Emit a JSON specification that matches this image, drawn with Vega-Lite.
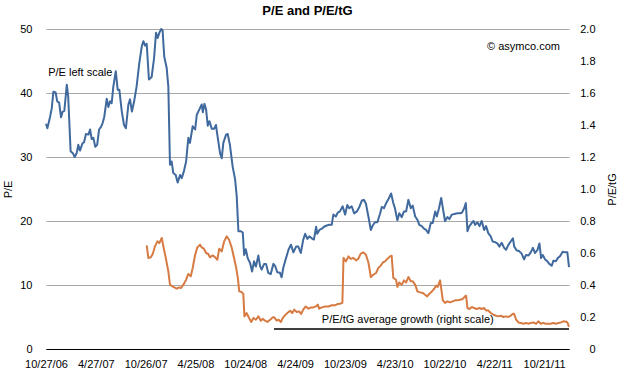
{
  "$schema": "https://vega.github.io/schema/vega-lite/v6.json",
  "width": 523,
  "height": 320,
  "autosize": {"type": "none"},
  "padding": {"left": 46, "top": 29, "right": 51, "bottom": 43},
  "background": "white",
  "title": {"text": "P/E and P/E/tG", "font": "Liberation Sans", "fontSize": 13, "fontWeight": "bold", "color": "black", "anchor": "middle", "offset": 5},
  "config": {
    "font": "Liberation Sans",
    "view": {"stroke": null},
    "axis": {"labelFont": "Liberation Sans", "labelFontSize": 11, "labelColor": "black", "titleFont": "Liberation Sans", "titleFontSize": 11, "titleFontWeight": "normal", "titleColor": "black"}
  },
  "datasets": {
    "pe": [
      {"date":"2006-10-27","pe":35.2},{"date":"2006-11-01","pe":34.5},{"date":"2006-11-11","pe":36.3},{"date":"2006-11-17","pe":37.6},{"date":"2006-11-23","pe":40.2},{"date":"2006-12-01","pe":40.1},{"date":"2006-12-07","pe":38.7},{"date":"2006-12-14","pe":38.5},{"date":"2006-12-21","pe":36.2},{"date":"2006-12-27","pe":37.1},
      {"date":"2007-01-02","pe":37.2},{"date":"2007-01-11","pe":41.3},{"date":"2007-01-16","pe":39.5},{"date":"2007-01-25","pe":30.9},{"date":"2007-02-02","pe":30.6},{"date":"2007-02-09","pe":30.0},{"date":"2007-02-16","pe":30.6},{"date":"2007-02-22","pe":31.9},{"date":"2007-02-28","pe":31.0},{"date":"2007-03-09","pe":32.1},
      {"date":"2007-03-15","pe":32.3},{"date":"2007-03-22","pe":33.6},{"date":"2007-03-31","pe":33.5},{"date":"2007-04-06","pe":34.3},{"date":"2007-04-12","pe":32.8},{"date":"2007-04-18","pe":33.0},{"date":"2007-04-25","pe":31.6},{"date":"2007-05-02","pe":31.9},{"date":"2007-05-09","pe":34.3},{"date":"2007-05-16","pe":34.7},
      {"date":"2007-05-22","pe":35.3},{"date":"2007-05-28","pe":36.3},{"date":"2007-06-06","pe":39.1},{"date":"2007-06-12","pe":37.8},{"date":"2007-06-18","pe":38.7},{"date":"2007-06-24","pe":38.4},{"date":"2007-06-30","pe":41.0},{"date":"2007-07-09","pe":43.4},{"date":"2007-07-16","pe":40.5},{"date":"2007-07-22","pe":40.5},
      {"date":"2007-07-31","pe":37.1},{"date":"2007-08-08","pe":35.0},{"date":"2007-08-15","pe":34.5},{"date":"2007-08-24","pe":38.2},{"date":"2007-08-30","pe":39.0},{"date":"2007-09-06","pe":37.1},{"date":"2007-09-14","pe":38.7},{"date":"2007-09-23","pe":41.0},{"date":"2007-10-03","pe":44.7},{"date":"2007-10-12","pe":47.3},
      {"date":"2007-10-18","pe":48.1},{"date":"2007-10-24","pe":47.4},{"date":"2007-10-30","pe":47.7},{"date":"2007-11-07","pe":42.1},{"date":"2007-11-17","pe":42.5},{"date":"2007-11-26","pe":45.5},{"date":"2007-12-03","pe":49.4},{"date":"2007-12-09","pe":48.6},{"date":"2007-12-15","pe":49.4},{"date":"2007-12-22","pe":50.0},
      {"date":"2007-12-27","pe":49.8},{"date":"2008-01-02","pe":45.7},{"date":"2008-01-11","pe":43.9},{"date":"2008-01-17","pe":41.0},{"date":"2008-01-23","pe":28.8},{"date":"2008-01-29","pe":29.3},{"date":"2008-02-04","pe":27.5},{"date":"2008-02-13","pe":27.2},{"date":"2008-02-20","pe":26.0},{"date":"2008-02-29","pe":27.2},
      {"date":"2008-03-06","pe":26.7},{"date":"2008-03-14","pe":27.8},{"date":"2008-03-22","pe":29.3},{"date":"2008-03-30","pe":33.0},{"date":"2008-04-05","pe":32.2},{"date":"2008-04-15","pe":34.8},{"date":"2008-04-24","pe":34.3},{"date":"2008-04-30","pe":36.6},{"date":"2008-05-09","pe":37.4},{"date":"2008-05-18","pe":38.2},
      {"date":"2008-05-22","pe":37.0},{"date":"2008-05-28","pe":38.3},{"date":"2008-06-03","pe":37.4},{"date":"2008-06-09","pe":34.9},{"date":"2008-06-15","pe":35.6},{"date":"2008-06-24","pe":34.4},{"date":"2008-07-02","pe":34.4},{"date":"2008-07-09","pe":35.0},{"date":"2008-07-15","pe":33.2},{"date":"2008-07-24","pe":30.6},
      {"date":"2008-07-30","pe":29.8},{"date":"2008-08-05","pe":32.2},{"date":"2008-08-15","pe":33.5},{"date":"2008-08-21","pe":33.6},{"date":"2008-08-29","pe":31.9},{"date":"2008-09-08","pe":28.5},{"date":"2008-09-17","pe":26.5},{"date":"2008-09-23","pe":23.8},{"date":"2008-09-29","pe":18.4},{"date":"2008-10-08","pe":18.4},
      {"date":"2008-10-15","pe":18.2},{"date":"2008-10-20","pe":14.7},{"date":"2008-10-26","pe":15.6},{"date":"2008-11-02","pe":14.2},{"date":"2008-11-11","pe":13.4},{"date":"2008-11-18","pe":12.1},{"date":"2008-11-25","pe":13.7},{"date":"2008-12-02","pe":12.9},{"date":"2008-12-11","pe":14.6},{"date":"2008-12-17","pe":13.0},
      {"date":"2008-12-23","pe":12.4},{"date":"2009-01-01","pe":13.3},{"date":"2009-01-08","pe":13.3},{"date":"2009-01-16","pe":11.9},{"date":"2009-01-25","pe":11.7},{"date":"2009-02-04","pe":13.3},{"date":"2009-02-10","pe":13.0},{"date":"2009-02-18","pe":12.0},{"date":"2009-02-28","pe":11.9},{"date":"2009-03-06","pe":11.2},
      {"date":"2009-03-12","pe":12.7},{"date":"2009-03-22","pe":14.2},{"date":"2009-03-31","pe":15.5},{"date":"2009-04-09","pe":16.3},{"date":"2009-04-18","pe":15.1},{"date":"2009-04-28","pe":16.0},{"date":"2009-05-06","pe":16.0},{"date":"2009-05-15","pe":15.0},{"date":"2009-05-24","pe":17.1},{"date":"2009-05-31","pe":18.0},
      {"date":"2009-06-08","pe":17.2},{"date":"2009-06-15","pe":17.6},{"date":"2009-06-24","pe":17.3},{"date":"2009-07-02","pe":17.1},{"date":"2009-07-10","pe":19.1},{"date":"2009-07-14","pe":18.0},{"date":"2009-07-22","pe":18.6},{"date":"2009-07-31","pe":18.8},{"date":"2009-08-08","pe":19.1},{"date":"2009-08-18","pe":19.3},
      {"date":"2009-08-27","pe":19.4},{"date":"2009-09-05","pe":19.4},{"date":"2009-09-11","pe":21.0},{"date":"2009-09-20","pe":20.7},{"date":"2009-09-27","pe":21.3},{"date":"2009-10-05","pe":21.5},{"date":"2009-10-15","pe":22.3},{"date":"2009-10-24","pe":21.0},{"date":"2009-11-01","pe":22.5},{"date":"2009-11-08","pe":22.0},
      {"date":"2009-11-17","pe":22.3},{"date":"2009-11-26","pe":21.2},{"date":"2009-12-06","pe":21.5},{"date":"2009-12-15","pe":22.2},{"date":"2009-12-24","pe":23.2},{"date":"2010-01-01","pe":23.3},{"date":"2010-01-08","pe":22.7},{"date":"2010-01-17","pe":20.7},{"date":"2010-01-26","pe":18.6},{"date":"2010-02-02","pe":19.3},
      {"date":"2010-02-10","pe":19.8},{"date":"2010-02-19","pe":19.8},{"date":"2010-03-01","pe":21.2},{"date":"2010-03-07","pe":22.2},{"date":"2010-03-15","pe":22.0},{"date":"2010-03-23","pe":22.8},{"date":"2010-03-31","pe":23.4},{"date":"2010-04-10","pe":24.3},{"date":"2010-04-18","pe":22.8},{"date":"2010-04-24","pe":22.0},
      {"date":"2010-05-03","pe":20.1},{"date":"2010-05-10","pe":21.2},{"date":"2010-05-19","pe":20.6},{"date":"2010-05-27","pe":21.5},{"date":"2010-06-04","pe":21.5},{"date":"2010-06-12","pe":23.3},{"date":"2010-06-21","pe":22.0},{"date":"2010-06-28","pe":22.4},{"date":"2010-07-07","pe":20.7},{"date":"2010-07-15","pe":20.2},
      {"date":"2010-07-22","pe":19.4},{"date":"2010-07-31","pe":19.2},{"date":"2010-08-08","pe":18.8},{"date":"2010-08-16","pe":18.6},{"date":"2010-08-24","pe":18.1},{"date":"2010-09-02","pe":19.7},{"date":"2010-09-09","pe":19.7},{"date":"2010-09-18","pe":21.5},{"date":"2010-09-24","pe":20.7},{"date":"2010-10-02","pe":22.0},
      {"date":"2010-10-10","pe":23.6},{"date":"2010-10-18","pe":21.5},{"date":"2010-10-24","pe":20.0},{"date":"2010-11-02","pe":20.6},{"date":"2010-11-09","pe":20.3},{"date":"2010-11-18","pe":21.0},{"date":"2010-11-27","pe":21.1},{"date":"2010-12-08","pe":21.2},{"date":"2010-12-18","pe":21.2},{"date":"2010-12-25","pe":21.3},
      {"date":"2011-01-02","pe":22.0},{"date":"2011-01-08","pe":22.8},{"date":"2011-01-14","pe":18.4},{"date":"2011-01-21","pe":19.2},{"date":"2011-01-30","pe":19.7},{"date":"2011-02-05","pe":20.0},{"date":"2011-02-11","pe":19.4},{"date":"2011-02-19","pe":19.8},{"date":"2011-02-27","pe":19.2},{"date":"2011-03-07","pe":20.0},
      {"date":"2011-03-16","pe":18.6},{"date":"2011-03-23","pe":19.2},{"date":"2011-03-31","pe":18.1},{"date":"2011-04-09","pe":17.6},{"date":"2011-04-16","pe":16.8},{"date":"2011-04-25","pe":16.7},{"date":"2011-05-03","pe":16.5},{"date":"2011-05-11","pe":16.0},{"date":"2011-05-19","pe":16.6},{"date":"2011-05-28","pe":15.8},
      {"date":"2011-06-04","pe":15.5},{"date":"2011-06-13","pe":16.3},{"date":"2011-06-21","pe":16.8},{"date":"2011-06-29","pe":17.3},{"date":"2011-07-04","pe":16.0},{"date":"2011-07-13","pe":15.4},{"date":"2011-07-22","pe":15.3},{"date":"2011-07-31","pe":14.9},{"date":"2011-08-09","pe":14.0},{"date":"2011-08-16","pe":14.7},
      {"date":"2011-08-25","pe":14.6},{"date":"2011-09-02","pe":15.1},{"date":"2011-09-10","pe":15.8},{"date":"2011-09-18","pe":15.0},{"date":"2011-09-27","pe":15.5},{"date":"2011-10-04","pe":16.5},{"date":"2011-10-10","pe":14.2},{"date":"2011-10-16","pe":14.7},{"date":"2011-10-25","pe":14.0},{"date":"2011-11-02","pe":13.7},
      {"date":"2011-11-09","pe":13.3},{"date":"2011-11-18","pe":13.0},{"date":"2011-11-24","pe":13.8},{"date":"2011-12-03","pe":13.7},{"date":"2011-12-10","pe":14.2},{"date":"2011-12-18","pe":14.5},{"date":"2011-12-28","pe":15.2},{"date":"2012-01-06","pe":15.1},{"date":"2012-01-14","pe":15.1},{"date":"2012-01-20","pe":12.8}
    ],
    "petg": [
      {"date":"2007-10-30","petg":0.648},{"date":"2007-11-05","petg":0.569},{"date":"2007-11-14","petg":0.573},{"date":"2007-11-21","petg":0.594},{"date":"2007-11-29","petg":0.641},{"date":"2007-12-08","petg":0.673},{"date":"2007-12-15","petg":0.662},{"date":"2007-12-24","petg":0.694},{"date":"2007-12-30","petg":0.641},{"date":"2008-01-09","petg":0.558},
      {"date":"2008-01-17","petg":0.485},{"date":"2008-01-23","petg":0.402},{"date":"2008-02-01","petg":0.391},{"date":"2008-02-08","petg":0.385},{"date":"2008-02-17","petg":0.377},{"date":"2008-02-25","petg":0.385},{"date":"2008-03-03","petg":0.381},{"date":"2008-03-12","petg":0.402},{"date":"2008-03-22","petg":0.433},{"date":"2008-03-30","petg":0.469},
      {"date":"2008-04-08","petg":0.454},{"date":"2008-04-15","petg":0.506},{"date":"2008-04-24","petg":0.589},{"date":"2008-05-02","petg":0.635},{"date":"2008-05-12","petg":0.652},{"date":"2008-05-18","petg":0.635},{"date":"2008-05-26","petg":0.627},{"date":"2008-06-03","petg":0.600},{"date":"2008-06-11","petg":0.594},{"date":"2008-06-17","petg":0.573},
      {"date":"2008-06-27","petg":0.585},{"date":"2008-07-06","petg":0.573},{"date":"2008-07-14","petg":0.558},{"date":"2008-07-21","petg":0.627},{"date":"2008-07-30","petg":0.610},{"date":"2008-08-08","petg":0.673},{"date":"2008-08-17","petg":0.704},{"date":"2008-08-26","petg":0.683},{"date":"2008-09-05","petg":0.631},{"date":"2008-09-13","petg":0.569},
      {"date":"2008-09-20","petg":0.516},{"date":"2008-09-27","petg":0.444},{"date":"2008-10-02","petg":0.360},{"date":"2008-10-11","petg":0.356},{"date":"2008-10-17","petg":0.344},{"date":"2008-10-21","petg":0.204},{"date":"2008-10-29","petg":0.225},{"date":"2008-11-07","petg":0.194},{"date":"2008-11-15","petg":0.169},{"date":"2008-11-23","petg":0.194},
      {"date":"2008-12-02","petg":0.183},{"date":"2008-12-11","petg":0.204},{"date":"2008-12-20","petg":0.177},{"date":"2008-12-27","petg":0.189},{"date":"2009-01-04","petg":0.177},{"date":"2009-01-13","petg":0.169},{"date":"2009-01-23","petg":0.183},{"date":"2009-02-02","petg":0.198},{"date":"2009-02-07","petg":0.198},{"date":"2009-02-16","petg":0.177},
      {"date":"2009-02-23","petg":0.183},{"date":"2009-03-03","petg":0.169},{"date":"2009-03-10","petg":0.194},{"date":"2009-03-18","petg":0.210},{"date":"2009-03-27","petg":0.225},{"date":"2009-04-06","petg":0.239},{"date":"2009-04-14","petg":0.225},{"date":"2009-04-21","petg":0.246},{"date":"2009-04-30","petg":0.231},{"date":"2009-05-09","petg":0.235},
      {"date":"2009-05-16","petg":0.219},{"date":"2009-05-24","petg":0.246},{"date":"2009-06-02","petg":0.266},{"date":"2009-06-12","petg":0.252},{"date":"2009-06-21","petg":0.260},{"date":"2009-06-30","petg":0.260},{"date":"2009-07-09","petg":0.266},{"date":"2009-07-16","petg":0.277},{"date":"2009-07-21","petg":0.252},{"date":"2009-07-31","petg":0.260},
      {"date":"2009-08-12","petg":0.266},{"date":"2009-08-24","petg":0.266},{"date":"2009-09-05","petg":0.273},{"date":"2009-09-17","petg":0.273},{"date":"2009-09-26","petg":0.281},{"date":"2009-10-05","petg":0.283},{"date":"2009-10-14","petg":0.288},{"date":"2009-10-18","petg":0.569},{"date":"2009-10-27","petg":0.548},{"date":"2009-11-05","petg":0.579},
      {"date":"2009-11-13","petg":0.563},{"date":"2009-11-23","petg":0.569},{"date":"2009-12-03","petg":0.554},{"date":"2009-12-11","petg":0.563},{"date":"2009-12-20","petg":0.596},{"date":"2009-12-30","petg":0.604},{"date":"2010-01-08","petg":0.589},{"date":"2010-01-17","petg":0.541},{"date":"2010-01-26","petg":0.450},{"date":"2010-02-04","petg":0.464},
      {"date":"2010-02-14","petg":0.475},{"date":"2010-02-22","petg":0.506},{"date":"2010-03-03","petg":0.521},{"date":"2010-03-11","petg":0.541},{"date":"2010-03-19","petg":0.548},{"date":"2010-03-27","petg":0.563},{"date":"2010-04-06","petg":0.579},{"date":"2010-04-12","petg":0.583},{"date":"2010-04-18","petg":0.444},{"date":"2010-04-28","petg":0.433},
      {"date":"2010-05-03","petg":0.388},{"date":"2010-05-10","petg":0.416},{"date":"2010-05-19","petg":0.402},{"date":"2010-05-27","petg":0.429},{"date":"2010-06-04","petg":0.416},{"date":"2010-06-12","petg":0.450},{"date":"2010-06-21","petg":0.423},{"date":"2010-06-28","petg":0.423},{"date":"2010-07-07","petg":0.402},{"date":"2010-07-15","petg":0.360},
      {"date":"2010-07-25","petg":0.354},{"date":"2010-08-04","petg":0.350},{"date":"2010-08-12","petg":0.339},{"date":"2010-08-20","petg":0.329},{"date":"2010-08-28","petg":0.346},{"date":"2010-09-06","petg":0.360},{"date":"2010-09-14","petg":0.375},{"date":"2010-09-21","petg":0.396},{"date":"2010-09-27","petg":0.388},{"date":"2010-10-06","petg":0.429},
      {"date":"2010-10-09","petg":0.391},{"date":"2010-10-16","petg":0.304},{"date":"2010-10-24","petg":0.288},{"date":"2010-11-02","petg":0.298},{"date":"2010-11-11","petg":0.291},{"date":"2010-11-21","petg":0.298},{"date":"2010-11-30","petg":0.304},{"date":"2010-12-08","petg":0.304},{"date":"2010-12-18","petg":0.308},{"date":"2010-12-28","petg":0.313},
      {"date":"2011-01-05","petg":0.329},{"date":"2011-01-09","petg":0.333},{"date":"2011-01-14","petg":0.256},{"date":"2011-01-21","petg":0.250},{"date":"2011-01-30","petg":0.263},{"date":"2011-02-07","petg":0.256},{"date":"2011-02-17","petg":0.250},{"date":"2011-02-27","petg":0.256},{"date":"2011-03-07","petg":0.250},{"date":"2011-03-16","petg":0.256},
      {"date":"2011-03-23","petg":0.241},{"date":"2011-03-31","petg":0.241},{"date":"2011-04-09","petg":0.225},{"date":"2011-04-19","petg":0.214},{"date":"2011-04-29","petg":0.208},{"date":"2011-05-07","petg":0.204},{"date":"2011-05-16","petg":0.208},{"date":"2011-05-25","petg":0.200},{"date":"2011-06-04","petg":0.204},{"date":"2011-06-13","petg":0.200},
      {"date":"2011-06-21","petg":0.208},{"date":"2011-06-29","petg":0.221},{"date":"2011-07-03","petg":0.221},{"date":"2011-07-11","petg":0.183},{"date":"2011-07-19","petg":0.166},{"date":"2011-07-28","petg":0.163},{"date":"2011-08-06","petg":0.158},{"date":"2011-08-16","petg":0.163},{"date":"2011-08-25","petg":0.158},{"date":"2011-09-02","petg":0.163},
      {"date":"2011-09-12","petg":0.166},{"date":"2011-09-22","petg":0.158},{"date":"2011-09-30","petg":0.173},{"date":"2011-10-09","petg":0.158},{"date":"2011-10-18","petg":0.163},{"date":"2011-10-28","petg":0.158},{"date":"2011-11-05","petg":0.158},{"date":"2011-11-14","petg":0.158},{"date":"2011-11-24","petg":0.163},{"date":"2011-12-04","petg":0.158},
      {"date":"2011-12-12","petg":0.163},{"date":"2011-12-21","petg":0.166},{"date":"2011-12-31","petg":0.173},{"date":"2012-01-10","petg":0.171},{"date":"2012-01-14","petg":0.166},{"date":"2012-01-20","petg":0.138}
    ],
    "notes": [
      {"date":"2006-11-04","pe":43.1,"label":"P/E left scale","side":"left"},
      {"date":"2009-07-31","pe":4.47,"label":"P/E/tG average growth (right scale)","side":"left"},
      {"date":"2011-12-18","pe":47.2,"label":"© asymco.com","side":"right"}
    ],
    "rule": [
      {"date":"2009-02-06","end":"2012-01-20","pe":3.125}
    ]
  },
  "encoding": {
    "x": {
      "field": "date",
      "type": "temporal",
      "scale": {"type": "utc", "domain": [{"year":2006,"month":10,"date":27,"utc":true},{"year":2012,"month":1,"date":20,"utc":true}]},
      "axis": {
        "title": null,
        "values": [
          {"year":2006,"month":10,"date":27,"utc":true},
          {"year":2007,"month":4,"date":27,"utc":true},
          {"year":2007,"month":10,"date":26,"utc":true},
          {"year":2008,"month":4,"date":25,"utc":true},
          {"year":2008,"month":10,"date":24,"utc":true},
          {"year":2009,"month":4,"date":24,"utc":true},
          {"year":2009,"month":10,"date":23,"utc":true},
          {"year":2010,"month":4,"date":23,"utc":true},
          {"year":2010,"month":10,"date":22,"utc":true},
          {"year":2011,"month":4,"date":22,"utc":true},
          {"year":2011,"month":10,"date":21,"utc":true}
        ],
        "labelExpr": "utcFormat(datum.value, '%-m/%-d/%y')",
        "labelFlush": false,
        "labelOverlap": false,
        "grid": false,
        "ticks": false,
        "tickSize": 0,
        "domain": true,
        "domainColor": "black",
        "domainWidth": 1.2,
        "labelPadding": 9
      }
    }
  },
  "layer": [
    {
      "data": {"name": "pe"},
      "mark": {"type": "line", "color": "#40699e", "strokeWidth": 2, "strokeJoin": "round"},
      "encoding": {
        "y": {
          "field": "pe", "type": "quantitative",
          "scale": {"domain": [0, 50], "nice": false, "zero": true},
          "axis": {
            "orient": "left",
            "title": "P/E",
            "values": [0, 10, 20, 30, 40, 50],
            "grid": true,
            "gridColor": {"condition": {"test": "datum.value === 0", "value": "black"}, "value": "#a8a8a8"},
            "gridWidth": 1,
            "domain": false,
            "ticks": false,
            "tickSize": 0,
            "labelPadding": 14,
            "titleX": -38,
            "titleY": 160,
            "titleAngle": -90,
            "titleAlign": "center",
            "titleBaseline": "middle"
          }
        }
      }
    },
    {
      "data": {"name": "petg"},
      "mark": {"type": "line", "color": "#d77b43", "strokeWidth": 2, "strokeJoin": "round"},
      "encoding": {
        "y": {
          "field": "petg", "type": "quantitative",
          "scale": {"domain": [0, 2], "nice": false},
          "axis": {
            "orient": "right",
            "title": "P/E/tG",
            "values": [0, 0.2, 0.4, 0.6, 0.8, 1.0, 1.2, 1.4, 1.6, 1.8, 2.0],
            "labelExpr": "datum.value === 0 ? '0' : format(datum.value, '.1f')",
            "grid": false,
            "domain": false,
            "ticks": false,
            "tickSize": 0,
            "labelAlign": "right",
            "labelPadding": 26,
            "titleX": 43,
            "titleY": 160,
            "titleAngle": -90,
            "titleAlign": "center",
            "titleBaseline": "middle"
          }
        }
      }
    },
    {
      "data": {"name": "notes"},
      "transform": [{"filter": "datum.side === 'left'"}],
      "mark": {"type": "text", "font": "Liberation Sans", "fontSize": 11, "color": "black", "baseline": "middle", "align": "left"},
      "encoding": {
        "y": {"field": "pe", "type": "quantitative", "scale": {"domain": [0, 50], "nice": false}, "axis": null},
        "text": {"field": "label"}
      }
    },
    {
      "data": {"name": "notes"},
      "transform": [{"filter": "datum.side === 'right'"}],
      "mark": {"type": "text", "font": "Liberation Sans", "fontSize": 11, "color": "black", "baseline": "middle", "align": "right"},
      "encoding": {
        "y": {"field": "pe", "type": "quantitative", "scale": {"domain": [0, 50], "nice": false}, "axis": null},
        "text": {"field": "label"}
      }
    },
    {
      "data": {"name": "rule"},
      "mark": {"type": "rule", "color": "black", "strokeWidth": 1.5},
      "encoding": {
        "x2": {"field": "end"},
        "y": {"field": "pe", "type": "quantitative", "scale": {"domain": [0, 50], "nice": false}, "axis": null}
      }
    }
  ],
  "resolve": {"scale": {"y": "independent"}}
}
